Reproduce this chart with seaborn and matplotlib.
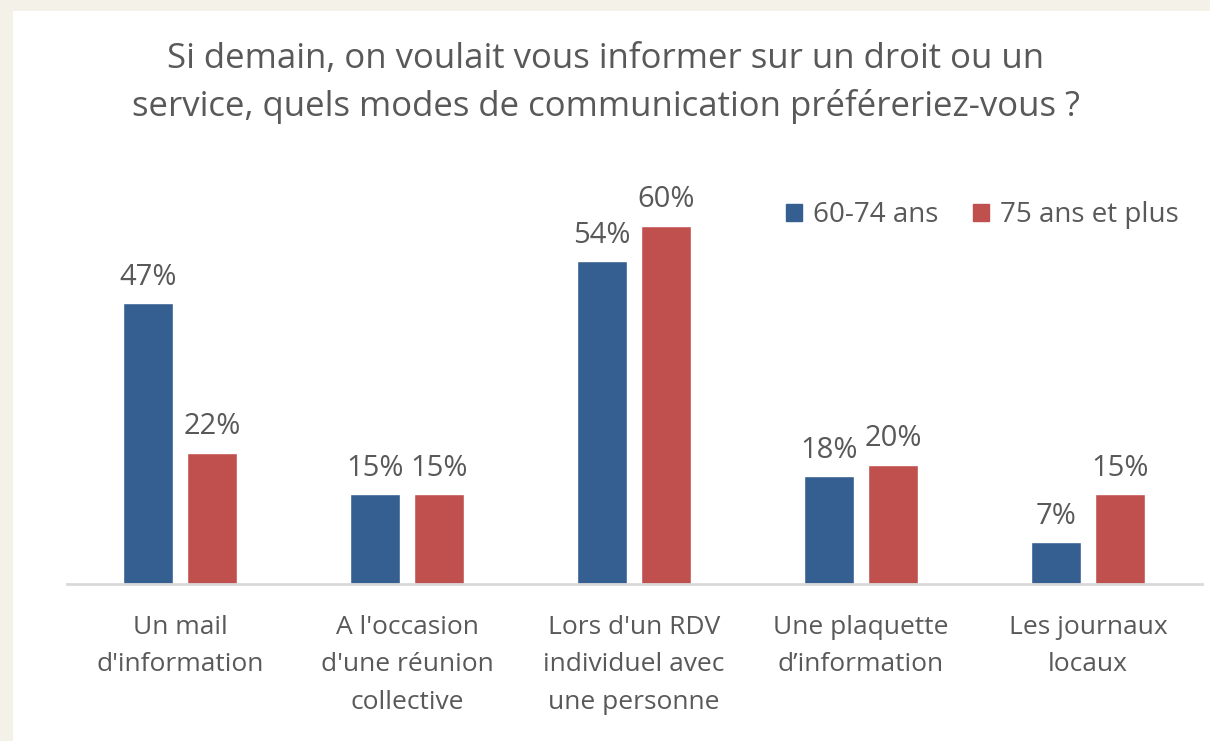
import matplotlib
matplotlib.use("Agg")
import matplotlib.pyplot as plt
import matplotlib.patches as mpatches
import seaborn as sns
import pandas as pd

# ===================== 数据 =====================
categories = [
    "Un mail\nd'information",
    "A l'occasion\nd'une réunion\ncollective",
    "Lors d'un RDV\nindividuel avec\nune personne",
    "Une plaquette\nd’information",
    "Les journaux\nlocaux",
]
groups = ["60-74 ans", "75 ans et plus"]
vals_60_74 = [47, 15, 54, 18, 7]
vals_75_plus = [22, 15, 60, 20, 15]

title = ("Si demain, on voulait vous informer sur un droit ou un\n"
         "service, quels modes de communication préféreriez-vous ?")

BLUE = "#355F91"
RED = "#C0504D"
GREY_TXT = "#595959"
BEIGE = "#F4F1E9"

df = pd.DataFrame({
    "cat": categories * 2,
    "groupe": [groups[0]] * len(categories) + [groups[1]] * len(categories),
    "val": vals_60_74 + vals_75_plus,
})

# ===================== 样式 =====================
sns.set_theme(style="white")
plt.rcParams["font.family"] = ["Open Sans", "DejaVu Sans"]

fig = plt.figure(figsize=(12.1, 7.41), dpi=100, facecolor=BEIGE)
# fond blanc du graphique
fig.patches.append(mpatches.Rectangle((13 / 1210, 0), 1, 1 - 11 / 741,
                                      transform=fig.transFigure, facecolor="white",
                                      edgecolor="none", zorder=-5))

ax = fig.add_axes([66.5 / 1210, (741 - 584) / 741, 1135 / 1210, 417 / 741])
ax.set_facecolor("none")
ax.set_zorder(2)

sns.barplot(data=df, x="cat", y="val", hue="groupe", hue_order=groups,
            palette=[BLUE, RED], width=0.564, gap=0.22, saturation=1,
            ax=ax, legend=False)

for cont in ax.containers:
    ax.bar_label(cont, labels=[f"{v:.0f}%" for v in cont.datavalues],
                 padding=8, fontsize=21, color=GREY_TXT)

ax.set_xlim(-0.5, len(categories) - 0.5)
ax.set_ylim(0, 69.8)
ax.set_xlabel("")
ax.set_ylabel("")
ax.set_yticks([])
for s in ["top", "right", "left"]:
    ax.spines[s].set_visible(False)
ax.spines["bottom"].set_color("#D9D9D9")
ax.spines["bottom"].set_linewidth(2)
ax.tick_params(axis="x", length=0, pad=22, labelsize=19, labelcolor=GREY_TXT)
for lbl in ax.get_xticklabels():
    lbl.set_linespacing(1.66)

handles = [mpatches.Patch(color=BLUE, label=groups[0]),
           mpatches.Patch(color=RED, label=groups[1])]
fig.legend(handles=handles, loc="center right", bbox_to_anchor=(1204 / 1210, 1 - 215 / 741),
           ncol=2, frameon=False, fontsize=20, labelcolor=GREY_TXT,
           handlelength=0.55, handleheight=0.55, handletextpad=0.42, columnspacing=1.25)

fig.text(606 / 1210, 1 - 83 / 741, title, ha="center", va="center",
         fontsize=25, color=GREY_TXT, linespacing=1.45)

plt.savefig("out.png", dpi=100, facecolor=BEIGE)
plt.close()
